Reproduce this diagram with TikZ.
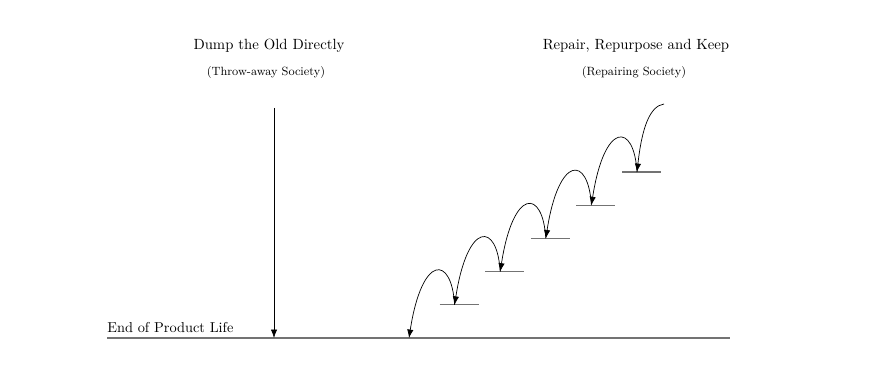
\documentclass[tikz,border=0pt]{standalone}
\usetikzlibrary{arrows.meta}
\begin{document}
\begin{tikzpicture}[x=0.025cm,y=0.025cm,
    ground/.style={draw=black!55,line width=0.8pt},
    hop/.style={-{Latex[length=6pt,width=4.5pt]},line width=0.5pt},
    title/.style={anchor=base,inner sep=0,font=\fontsize{10.5}{12}\selectfont},
    subtitle/.style={anchor=base,inner sep=0,font=\fontsize{8.5}{10}\selectfont}]
    \useasboundingbox (0,0) rectangle (880,366);
    % headings
    \node [title] (dumpt) at (269,316) {Dump the Old Directly};
    \node [subtitle] (dumps) at (266,290) {(Throw-away Society)};
    \node [title] (keept) at (636,316) {Repair, Repurpose and Keep};
    \node [subtitle] (keeps) at (634,290) {(Repairing Society)};
    % ground line
    \node [anchor=base west,inner sep=0,font=\fontsize{10.2}{12}\selectfont] (end) at (107,33) {End of Product Life};
    \coordinate (g0) at (107,28);
    \coordinate (g1) at (730,28);
    \draw [ground] (g0) -- (g1);
    % straight drop
    \coordinate (dtop) at (274,258);
    \coordinate (dbot) at (274,28);
    \draw [hop] (dtop) -- (dbot);
    % steps
    \coordinate (l0) at (409,28);
    \foreach \i in {1,...,5}
        {\coordinate (l\i) at ({409+45.6*\i},{28+33.2*\i});
        \draw [ground] (l\i) ++(-15,0) -- ++(39,0);}
    \foreach \i [count=\j from 0] in {1,...,5}
        \draw [hop] (l\i) .. controls +(-3,50) and +(13,84) .. (l\j);
    \coordinate (top) at (664,262);
    \draw [hop] (top) .. controls +(-14,-2) and +(5,45) .. (l5);
\end{tikzpicture}
\end{document}
